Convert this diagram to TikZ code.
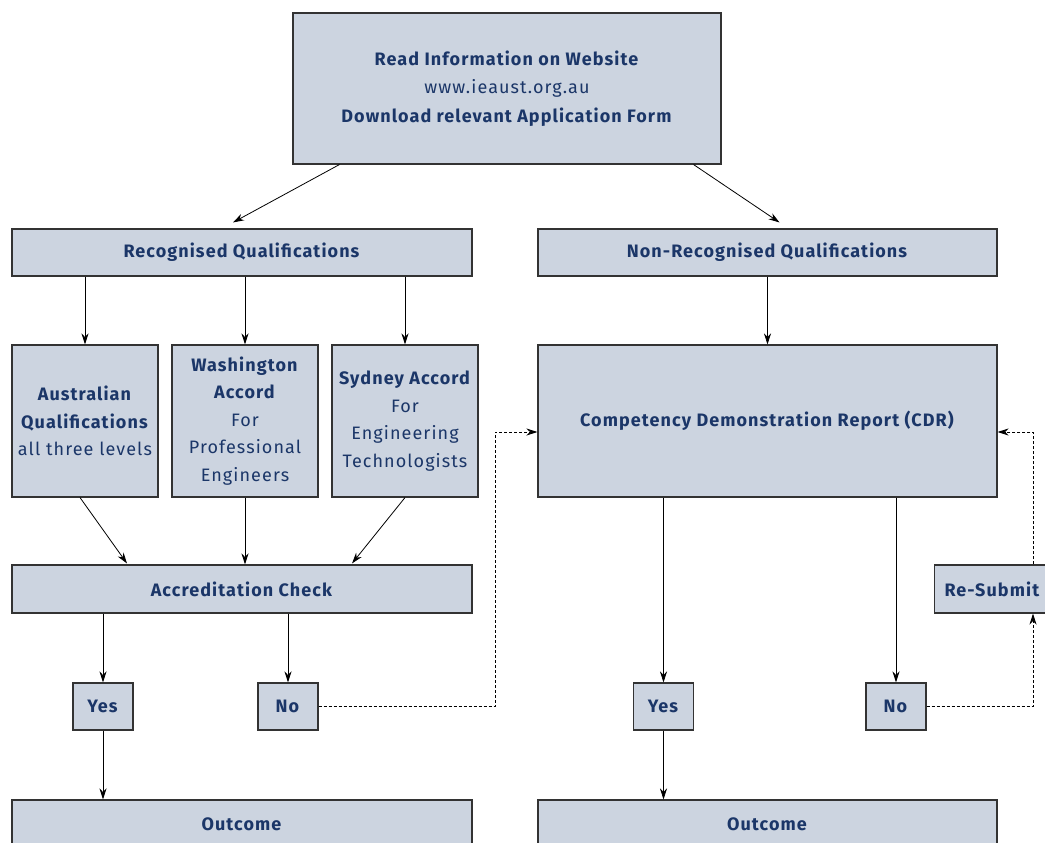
\documentclass[tikz,border=0pt]{standalone}
\usepackage{fontspec}
\setmainfont{Fira Sans}[LetterSpace=6]
\usetikzlibrary{arrows.meta,calc}
\definecolor{boxfill}{HTML}{CCD4E0}
\definecolor{navy}{HTML}{1B3668}
\definecolor{edge}{HTML}{333333}
\begin{document}
\begin{tikzpicture}[x=1pt,y=-1pt,
  box/.style={draw=edge,line width=1.1pt,fill=boxfill,text=navy,align=center,inner sep=0pt,
    font=\fontsize{18}{27.5}\selectfont},
  arr/.style={-{Stealth[length=11pt,width=7pt]},line width=0.8pt,black},
  darr/.style={-{Stealth[length=11pt,width=7pt]},line width=0.8pt,black,dash pattern=on 3pt off 2pt}]
\useasboundingbox (0,0) rectangle (1045,843);
\clip (0,0) rectangle (1045,843);
\node[box,minimum width=428pt,minimum height=151pt,font=\fontsize{18}{28.5}\selectfont] (top) at (507,88.5)
  {\textbf{Read Information on Website}\\www.ieaust.org.au\\\textbf{Download relevant Application Form}};
\node[box,minimum width=460pt,minimum height=47pt] (rec) at (242,252.5) {\textbf{Recognised Qualifications}};
\node[box,minimum width=459pt,minimum height=47pt] (nonrec) at (767.5,252.5) {\textbf{Non-Recognised Qualifications}};
\node[box,minimum width=146pt,minimum height=152pt] (aus) at (85,421) {\textbf{Australian}\\\textbf{Qualifications}\\all three levels};
\node[box,minimum width=146pt,minimum height=152pt] (wash) at (245,421) {\textbf{Washington}\\\textbf{Accord}\\For\\Professional\\Engineers};
\node[box,minimum width=146pt,minimum height=152pt] (syd) at (405,421) {\textbf{Sydney Accord}\\For\\Engineering\\Technologists};
\node[box,minimum width=459pt,minimum height=152pt] (cdr) at (767.5,421) {\textbf{Competency Demonstration Report (CDR)}};
\node[box,minimum width=460pt,minimum height=48pt] (acc) at (242,589) {\textbf{Accreditation Check}};
\node[box,minimum width=60pt,minimum height=47pt] (yes1) at (103,706.5) {\textbf{Yes}};
\node[box,minimum width=60pt,minimum height=47pt] (no1) at (288,706.5) {\textbf{No}};
\node[box,minimum width=60pt,minimum height=47pt] (yes2) at (663.5,706.5) {\textbf{Yes}};
\node[box,minimum width=60pt,minimum height=47pt] (no2) at (896,706.5) {\textbf{No}};
\node[box,minimum height=48pt,anchor=west,inner xsep=10pt,text width=106pt,align=left] (resub) at (934,589) {\textbf{Re-Submit}};
\node[box,minimum width=460pt,minimum height=48pt] (out1) at (242,824) {\textbf{Outcome}};
\node[box,minimum width=459pt,minimum height=48pt] (out2) at (767.5,824) {\textbf{Outcome}};
\coordinate (j1) at (495,432);
\coordinate (j2) at (1033,432);
% connectors
\draw[arr] ([xshift=47pt]top.south west) -- ([xshift=-9pt,yshift=6pt]rec.north);
\draw[arr] ([xshift=-28pt]top.south east) -- ([xshift=12pt,yshift=6pt]nonrec.north);
\draw[arr] (rec.south -| aus.north) -- (aus.north);
\draw[arr] (rec.south -| wash.north) -- (wash.north);
\draw[arr] (rec.south -| syd.north) -- (syd.north);
\draw[arr] (nonrec.south) -- (nonrec.south |- cdr.north);
\draw[arr] ([xshift=-5pt]aus.south) -- ([xshift=-115pt,yshift=1pt]acc.north);
\draw[arr] (wash.south) -- (wash.south |- acc.north);
\draw[arr] (syd.south) -- ([xshift=110pt,yshift=1pt]acc.north);
\draw[arr] (acc.south -| yes1.north) -- (yes1.north);
\draw[arr] (acc.south -| no1.north) -- (no1.north);
\draw[darr] (no1.east) -| (j1) -- (j1 -| cdr.west);
\draw[arr] (cdr.south -| yes2.north) -- (yes2.north);
\draw[arr] (cdr.south -| no2.north) -- (no2.north);
\draw[darr] (no2.east) -| (j2 |- resub.south);
\draw[darr] (j2 |- resub.north) -- (j2) -- (j2 -| cdr.east);
\draw[arr] (yes1.south) -- (yes1.south |- out1.north);
\draw[arr] (yes2.south) -- (yes2.south |- out2.north);
\end{tikzpicture}
\end{document}
